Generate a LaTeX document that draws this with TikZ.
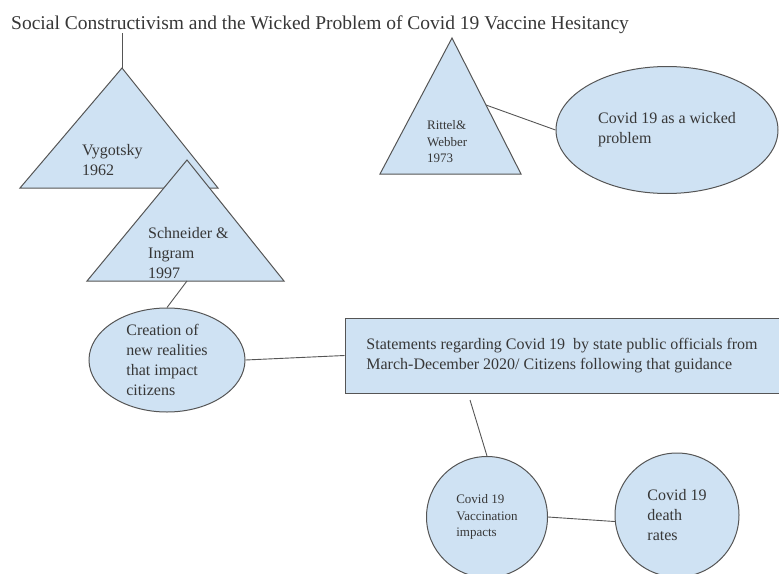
\documentclass[tikz,border=0pt]{standalone}
\usepackage{fontspec}
\setmainfont{Liberation Serif}
\usetikzlibrary{shapes.geometric}

\definecolor{paleblue}{RGB}{207,226,243}
\definecolor{edgegray}{RGB}{85,85,85}
\definecolor{inkgray}{RGB}{55,55,55}

\begin{document}
\begin{tikzpicture}[x=1pt,y=1pt,yscale=-1,xscale=1,
	blob/.style={fill=paleblue, draw=edgegray, line width=1pt, inner sep=0pt},
	bodytext/.style={inner sep=0pt, align=left, text=inkgray, font=\fontsize{16}{20}\selectfont},
	smalltext/.style={inner sep=0pt, align=left, text=inkgray, font=\fontsize{13}{16.5}\selectfont},
	link/.style={draw=edgegray, line width=0.9pt}]
		\useasboundingbox (0,0) rectangle (779,573);

		% Title across the top
		\node[anchor=base west, inner sep=0pt, text=inkgray, font=\fontsize{19.5}{23}\selectfont] (title) at (11,29) {Social Constructivism and the Wicked Problem of Covid 19 Vaccine Hesitancy};

		% Vygotsky triangle (drawn first, Schneider overlaps it)
		\coordinate (vyg apex) at (122,68);
		\draw[blob] (vyg apex) -- (218,188) -- (20,188) -- cycle;
		\node[bodytext, anchor=west] (vyg) at (82,160) {Vygotsky\\1962};

		% Schneider & Ingram triangle
		\coordinate (sch foot) at (187,281);
		\draw[blob] (187,160) -- (284,281) -- (87,281) -- cycle;
		\node[bodytext, anchor=west] (sch) at (148,253) {Schneider \&\\Ingram\\1997};

		% Rittel & Webber triangle
		\coordinate (rit edge) at (486,105);
		\draw[blob] (452,38) -- (521,174) -- (380,174) -- cycle;
		\node[smalltext, anchor=west] (rit) at (427,142) {Rittel\&\\Webber\\1973};

		% Ellipses, box and circles
		\node[blob, ellipse, minimum width=222, minimum height=127] (wicked) at (667,130) {};
		\node[bodytext] (wickedtxt) at (wicked) {Covid 19 as a wicked\\problem};

		\node[blob, ellipse, minimum width=156, minimum height=104] (creation) at (167,360) {};
		\node[bodytext] (creationtxt) at (creation) {Creation of\\new realities\\that impact\\citizens};

		\node[blob, rectangle, minimum width=434, minimum height=75] (stmt) at (562,355.5) {};
		\node[bodytext] (stmttxt) at (stmt) {Statements regarding Covid 19\ \ by state public officials from\\March-December 2020/ Citizens following that guidance};
		\coordinate (stmt foot) at (470,400);

		\node[blob, circle, minimum size=121] (vacc) at (487,517) {};
		\node[smalltext] (vacctxt) at (vacc) {Covid 19\\Vaccination\\impacts};

		\node[blob, circle, minimum size=124] (death) at (677,515) {};
		\node[bodytext] (deathtxt) at (death) {Covid 19\\death\\rates};

		% Connectors
		\draw[link] (title.south -| vyg apex) -- (vyg apex);
		\draw[link] (rit edge) -- (wicked.west);
		\draw[link] (sch foot) -- (creation.north);
		\draw[link] (creation.east) -- (stmt.west);
		\draw[link] (stmt foot) -- (vacc.north);
		\draw[link] (vacc.east) -- (death.186);
	\end{tikzpicture}
\end{document}
